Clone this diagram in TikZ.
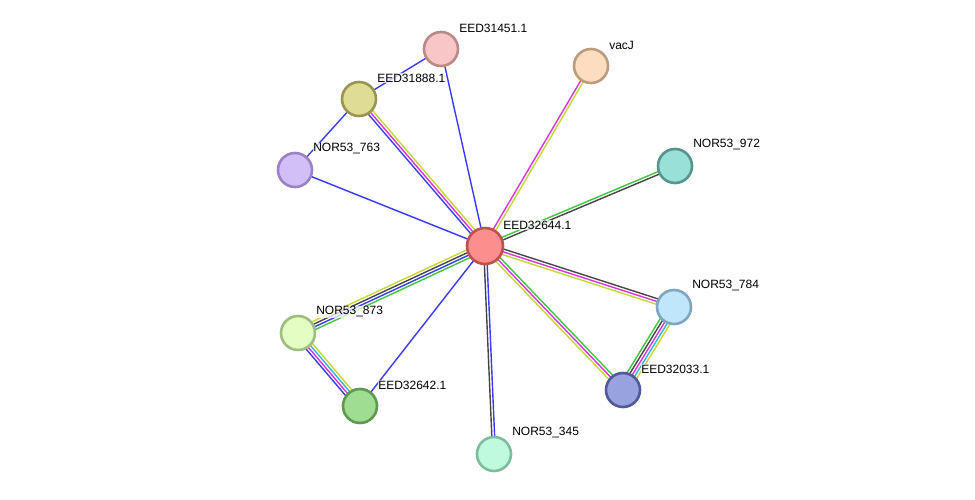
\documentclass[tikz,border=0pt]{standalone}
\usepackage{fontspec}
\setmainfont{Liberation Sans}
\usetikzlibrary{calc,backgrounds}
% node colours
\definecolor{cF}{RGB}{252,142,142}\definecolor{cD}{RGB}{190,80,80}
\definecolor{aF}{RGB}{248,198,198}\definecolor{aD}{RGB}{184,138,138}
\definecolor{bF}{RGB}{223,220,150}\definecolor{bD}{RGB}{154,150,80}
\definecolor{dF}{RGB}{210,191,248}\definecolor{dD}{RGB}{154,130,200}
\definecolor{vF}{RGB}{253,220,191}\definecolor{vD}{RGB}{187,156,124}
\definecolor{tF}{RGB}{153,224,216}\definecolor{tD}{RGB}{85,149,141}
\definecolor{sF}{RGB}{192,230,252}\definecolor{sD}{RGB}{126,166,190}
\definecolor{pF}{RGB}{152,162,223}\definecolor{pD}{RGB}{80,89,154}
\definecolor{mF}{RGB}{192,250,220}\definecolor{mD}{RGB}{127,190,156}
\definecolor{gF}{RGB}{159,221,146}\definecolor{gD}{RGB}{93,154,80}
\definecolor{lF}{RGB}{227,253,194}\definecolor{lD}{RGB}{160,189,128}
% link colours
\definecolor{eblu}{RGB}{58,58,250}
\definecolor{emag}{RGB}{220,50,220}
\definecolor{eyel}{RGB}{198,214,50}
\definecolor{egrn}{RGB}{60,200,60}
\definecolor{egry}{RGB}{70,70,70}
\definecolor{ecya}{RGB}{50,180,220}
\tikzset{
  prot/.style={circle,line width=2.6pt,minimum size=34pt,inner sep=0pt},
  lbl/.style={anchor=west,inner sep=0.6pt,fill=white,fill opacity=0.75,text opacity=1,
    font=\fontsize{12}{14}\selectfont},
  lnk/.style={line width=1.4pt},
}
\begin{document}
\begin{tikzpicture}[x=1pt,y=-1pt,line cap=round]
  \useasboundingbox (0,0) rectangle (975,500);
  % proteins
  \foreach \n/\x/\y/\fc/\dc/\t in {
      c/485/246/cF/cD/EED32644.1,
      e1451/441/49/aF/aD/EED31451.1,
      e1888/359/99/bF/bD/EED31888.1,
      o763/295/170/dF/dD/NOR53\_763,
      vacj/591/66/vF/vD/vacJ,
      o972/675/166/tF/tD/NOR53\_972,
      o784/674/307/sF/sD/NOR53\_784,
      e2033/623/390/pF/pD/EED32033.1,
      o345/494/454/mF/mD/NOR53\_345,
      e2642/360/406/gF/gD/EED32642.1,
      o873/298/333/lF/lD/NOR53\_873}{
    \node[prot,fill=\fc,draw=\dc] (\n) at (\x,\y) {};
    \node[lbl] (\n-l) at ([shift={(17.5,-21)}]\n.center) {\t};
  }
  \node[prot,fill=cF,draw=cD,minimum size=36pt] at (c) {};
  % links, one line per evidence channel
  \begin{scope}[on background layer]
    \foreach \a/\b/\k/\cols in {
        c/e1451/1/{eblu},
        c/e1888/3/{eblu,emag,eyel},
        c/o763/1/{eblu},
        c/vacj/2/{emag,eyel},
        c/o972/2/{egrn,egry},
        c/o784/3/{egry,emag,eyel},
        c/e2033/3/{egrn,emag,eyel},
        c/o345/2/{eblu,egry},
        c/e2642/1/{eblu},
        c/o873/4/{egrn,eblu,egry,eyel},
        e1888/e1451/1/{eblu},
        e1888/o763/1/{eblu},
        o873/e2642/4/{eyel,ecya,emag,eblu},
        o784/e2033/5/{eyel,ecya,emag,egry,egrn}}{
      \foreach \col [count=\i] in \cols {
        \pgfmathsetmacro\off{((\k+1)/2-\i)*2.8}
        \draw[lnk,draw=\col] ($(\a)!\off pt!90:(\b)$) -- ($(\b)!\off pt!-90:(\a)$);
      }
    }
  \end{scope}
\end{tikzpicture}
\end{document}
